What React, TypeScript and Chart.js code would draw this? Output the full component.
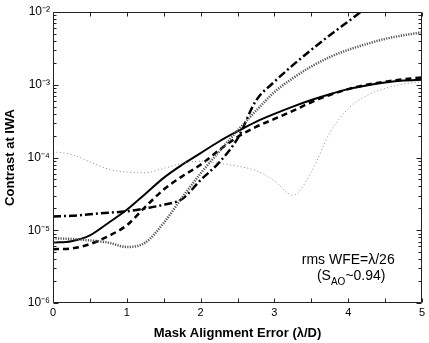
import { useEffect, useRef } from 'react';
import { Chart, registerables } from 'chart.js';

Chart.register(...registerables);

// ---- data ----
const xValues = [0, 0.25, 0.5, 0.75, 1, 1.25, 1.5, 1.75, 2, 2.25, 2.5, 2.75, 3, 3.25, 3.5, 3.75, 4, 4.25, 4.5, 4.75, 5];

const solidSeries = [6.76e-6, 7.08e-6, 8.51e-6, 1.26e-5, 1.91e-5, 3.16e-5, 5.25e-5, 7.94e-5, 1.15e-4, 1.66e-4, 2.29e-4, 3.09e-4, 3.98e-4, 5.01e-4, 6.17e-4, 7.41e-4, 8.71e-4, 9.77e-4, 1.07e-3, 1.14e-3, 1.17e-3];

const dashedSeries = [5.5e-6, 5.62e-6, 6.46e-6, 8.32e-6, 1.17e-5, 2.09e-5, 3.63e-5, 5.5e-5, 7.94e-5, 1.26e-4, 1.91e-4, 2.63e-4, 3.39e-4, 4.37e-4, 5.75e-4, 7.24e-4, 8.71e-4, 1.0e-3, 1.1e-3, 1.19e-3, 1.26e-3];

const dashDotSeries = [1.55e-5, 1.58e-5, 1.66e-5, 1.74e-5, 1.82e-5, 2.0e-5, 2.24e-5, 2.69e-5, 4.9e-5, 8.51e-5, 1.82e-4, 6.03e-4, 1.1e-3, 1.86e-3, 3.02e-3, 4.79e-3, 7.41e-3, 1.15e-2, 1.7e-2, 2.4e-2, 3.31e-2];

const thickDottedSeries = [7.76e-6, 7.59e-6, 7.24e-6, 6.76e-6, 5.89e-6, 6.76e-6, 1.26e-5, 2.82e-5, 6.03e-5, 1.2e-4, 2.34e-4, 4.37e-4, 7.94e-4, 1.23e-3, 1.78e-3, 2.4e-3, 3.02e-3, 3.63e-3, 4.27e-3, 4.79e-3, 5.25e-3];

const thinDottedSeries = [1.2e-4, 1.1e-4, 8.71e-5, 6.92e-5, 6.31e-5, 6.17e-5, 7.08e-5, 8.32e-5, 8.91e-5, 8.32e-5, 7.59e-5, 6.61e-5, 4.79e-5, 3.02e-5, 6.31e-5, 2.19e-4, 4.68e-4, 7.08e-4, 8.91e-4, 1.02e-3, 1.1e-3];

const xTickValues = [0, 0.5, 1, 1.5, 2, 2.5, 3, 3.5, 4, 4.5, 5];
const xTickLabels = ['0', '', '1', '', '2', '', '3', '', '4', '', '5'];
const yDecades = [1e-6, 1e-5, 1e-4, 1e-3, 1e-2];
const yTickLabels = ['10⁻⁶', '10⁻⁵', '10⁻⁴', '10⁻³', '10⁻²'];
const mantissas = [1, 2, 3, 4, 5, 6, 7, 8, 9];

const xTitle = 'Mask Alignment Error (λ/D)';
const yTitle = 'Contrast at IWA';
const noteLine1 = 'rms WFE=λ/26';
const noteLine2 = ['(S', 'AO', '~0.94)'];
const noteAnchor = { x: 4.0, y: 3.4e-6 };

const FONT = "'Liberation Sans', Arial, Helvetica, sans-serif";

const yTickValues: number[] = [];
yDecades.forEach((d, i) => {
  if (i === yDecades.length - 1) {
    yTickValues.push(d);
  } else {
    mantissas.forEach((m) => yTickValues.push(m * d));
  }
});

const isDecade = (v: number) => yDecades.some((d) => Math.abs(v - d) / d < 1e-6);

const framePlugin = {
  id: 'frame',
  afterDraw(chart: any) {
    const { ctx, chartArea: a, scales } = chart;
    const xs = scales.x;
    const ys = scales.y;
    const L = Math.round(a.left) + 0.5;
    const R = Math.round(a.right) - 0.5;
    const T = Math.round(a.top) + 0.5;
    const B = Math.round(a.bottom) - 0.5;
    ctx.save();
    ctx.strokeStyle = '#222';
    ctx.lineWidth = 1;
    ctx.beginPath();
    ctx.rect(L, T, R - L, B - T);
    xTickValues.forEach((v) => {
      const px = Math.round(xs.getPixelForValue(v)) + 0.5;
      ctx.moveTo(px, B);
      ctx.lineTo(px, B - 4);
      ctx.moveTo(px, T);
      ctx.lineTo(px, T + 4);
    });
    yTickValues.forEach((v) => {
      const py = Math.round(ys.getPixelForValue(v)) + 0.5;
      const len = isDecade(v) ? 5 : 3;
      ctx.moveTo(L, py);
      ctx.lineTo(L + len, py);
      ctx.moveTo(R, py);
      ctx.lineTo(R - len, py);
    });
    ctx.stroke();

    // annotation
    const cx = xs.getPixelForValue(noteAnchor.x);
    const by = ys.getPixelForValue(noteAnchor.y);
    ctx.fillStyle = '#000';
    ctx.textBaseline = 'alphabetic';
    ctx.textAlign = 'left';
    ctx.font = `14px ${FONT}`;
    const w1 = ctx.measureText(noteLine1).width;
    ctx.fillText(noteLine1, cx - w1 / 2, by);
    const big = `14px ${FONT}`;
    const small = `10px ${FONT}`;
    ctx.font = big;
    const wa = ctx.measureText(noteLine2[0]).width;
    const wc = ctx.measureText(noteLine2[2]).width;
    ctx.font = small;
    const wb = ctx.measureText(noteLine2[1]).width;
    const total = wa + wb + wc;
    let sx = cx + 3 - total / 2;
    const by2 = by + 15.5;
    ctx.font = big;
    ctx.fillText(noteLine2[0], sx, by2);
    sx += wa;
    ctx.font = small;
    ctx.fillText(noteLine2[1], sx, by2 + 5.5);
    sx += wb;
    ctx.font = big;
    ctx.fillText(noteLine2[2], sx, by2);
    ctx.restore();
  },
};

const toPoints = (ys: number[]) => xValues.map((x, i) => ({ x, y: ys[i] }));

export default function App() {
  const ref = useRef<HTMLCanvasElement | null>(null);

  useEffect(() => {
    if (!ref.current) return;
    document.body.style.margin = '0';
    const common = {
      fill: false,
      pointRadius: 0,
      cubicInterpolationMode: 'monotone' as const,
    };
    const chart = new Chart(ref.current, {
      type: 'line',
      data: {
        datasets: [
          { ...common, label: 'thin dotted', data: toPoints(thinDottedSeries), borderColor: '#8a8a8a', borderWidth: 1, borderDash: [1, 2.5] },
          { ...common, label: 'thick dotted', data: toPoints(thickDottedSeries), borderColor: '#555', borderWidth: 2.5, borderDash: [1.2, 1.3] },
          { ...common, label: 'dash-dot', data: toPoints(dashDotSeries), borderColor: '#000', borderWidth: 2.5, borderDash: [8, 3, 2, 3] },
          { ...common, label: 'dashed', data: toPoints(dashedSeries), borderColor: '#000', borderWidth: 2.5, borderDash: [6, 4] },
          { ...common, label: 'solid', data: toPoints(solidSeries), borderColor: '#000', borderWidth: 2 },
        ],
      },
      options: {
        animation: false,
        responsive: false,
        devicePixelRatio: 1,
        layout: { padding: { top: 12, right: 7, left: 0, bottom: 0 } },
        plugins: { legend: { display: false }, tooltip: { enabled: false }, title: { display: false } },
        scales: {
          x: {
            type: 'linear',
            min: 0,
            max: 5,
            grid: { display: false, drawTicks: false },
            border: { display: false },
            afterFit: (s: any) => { s.height = 40; },
            afterBuildTicks: (s: any) => { s.ticks = xTickValues.map((v) => ({ value: v })); },
            ticks: {
              autoSkip: false,
              maxRotation: 0,
              padding: 3,
              color: '#000',
              font: { family: FONT, size: 11 },
              callback: (_v: any, i: number) => xTickLabels[i],
            },
            title: {
              display: true,
              text: xTitle,
              color: '#000',
              padding: { top: 0, bottom: 2 },
              font: { family: FONT, size: 13, weight: 'bold' },
            },
          },
          y: {
            type: 'logarithmic',
            min: 1e-6,
            max: 1e-2,
            grid: { display: false, drawTicks: false },
            border: { display: false },
            afterFit: (s: any) => { s.width = 53; },
            afterBuildTicks: (s: any) => { s.ticks = yTickValues.map((v) => ({ value: v, major: isDecade(v) })); },
            ticks: {
              autoSkip: false,
              padding: 3,
              color: '#000',
              font: { family: FONT, size: 12 },
              callback: (v: any) => {
                const idx = yDecades.findIndex((d) => Math.abs(Number(v) - d) / d < 1e-6);
                return idx >= 0 ? yTickLabels[idx] : '';
              },
            },
            title: {
              display: true,
              text: yTitle,
              color: '#000',
              padding: { top: 3, bottom: 0 },
              font: { family: FONT, size: 13, weight: 'bold' },
            },
          },
        },
      },
      plugins: [framePlugin],
    });
    return () => chart.destroy();
  }, []);

  return (
    <div style={{ position: 'fixed', left: 0, top: 0, width: 429, height: 343, background: '#fff' }}>
      <canvas ref={ref} width={429} height={343} />
    </div>
  );
}
